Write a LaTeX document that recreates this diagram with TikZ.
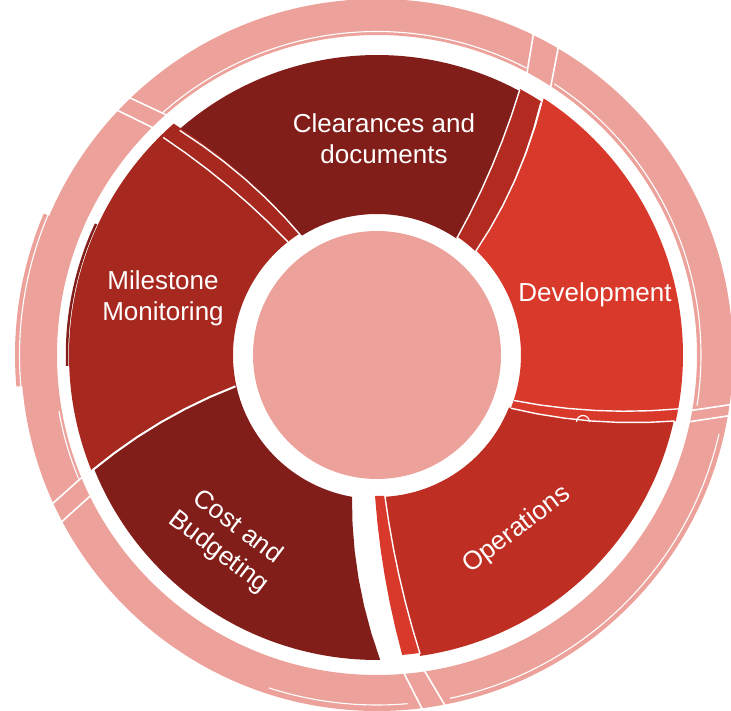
\documentclass[tikz,border=0pt]{standalone}
\usepackage{fontspec}
\setmainfont{Liberation Sans}
\definecolor{cdark}{RGB}{130,30,26}
\definecolor{cmile}{RGB}{166,40,31}
\definecolor{cdev}{RGB}{217,57,43}
\definecolor{cops}{RGB}{190,46,34}
\definecolor{cstrip}{RGB}{178,42,32}
\definecolor{cpink}{RGB}{236,162,155}
% segment: #1 start inner angle, #2 start outer angle, #3 end inner angle, #4 end outer angle, #5 inner r, #6 outer r
\newcommand\segp[6]{(#1:#5) -- plot[domain=0:1,samples=7] ({(#1)+((#2)-(#1))*\x}:{(#5)+((#6)-(#5))*\x}) arc[start angle=#2,end angle=#4,radius=#6] -- plot[domain=1:0,samples=7] ({(#3)+((#4)-(#3))*\x}:{(#5)+((#6)-(#5))*\x}) arc[start angle=#3,end angle=#1,radius=#5] -- cycle}
\newcommand\edgep[4]{plot[domain=0:1,samples=7] ({(#1)+((#2)-(#1))*\x}:{(#3)+((#4)-(#3))*\x})}
\begin{document}
\begin{tikzpicture}[x=1pt,y=1pt,
  wl/.style={draw=white,line width=1.4pt},
  gapline/.style={draw=white,line width=1.6pt},
  lbl/.style={text=white,font=\fontsize{26}{31}\selectfont,align=center,inner sep=0pt}]
\useasboundingbox (-377,-356) rectangle (354,355);
% outer pink ring
\fill[cpink, even odd rule] (0,0) circle[radius=356] (0,0) circle[radius=320];
\fill[cpink] (157:354) arc[start angle=157,end angle=185,radius=354] -- (185:362) arc[start angle=185,end angle=157,radius=362] -- cycle;
\draw[white,line width=1.1pt] (157:357.5) arc[start angle=157,end angle=185,radius=357.5];
% thin lines inside ring
\draw[white,line width=1.1pt] (62.5:323.5) arc[start angle=62.5,end angle=131.5,radius=323.5];
\draw[white,line width=1.1pt] (-9:324) arc[start angle=-9,end angle=56.8,radius=324];
\draw[white,line width=1.1pt] (190:323) arc[start angle=190,end angle=202.5,radius=323];
\draw[white,line width=1.1pt] (252:350) arc[start angle=252,end angle=275,radius=350];
\draw[white,line width=1.1pt] (-78:351) arc[start angle=-78,end angle=-13,radius=351];
% gaps in ring
\draw[gapline] (131:316) -- (134:359);
\draw[gapline] (134.4:316) -- (136.8:359);
\draw[gapline] (61.8:316) -- (64.1:359);
\draw[gapline] (56.8:316) -- (59.6:359);
\draw[gapline] (-10.2:316) -- (-7.9:359);
\draw[gapline] (-12.3:316) -- (-9.7:359);
\draw[gapline] (-85.4:316) -- (-82.6:359);
\draw[gapline] (-81.7:316) -- (-78.9:359);
\draw[gapline] (202.3:316) -- (205:365);
\draw[gapline] (206:316) -- (208.2:365);
% sliver outside Milestone
\draw[cdark,line width=2.5pt] (155:310) arc[start angle=155,end angle=182,radius=310];
\draw[white,line width=1pt] (155:307.5) arc[start angle=155,end angle=182,radius=307.5];
% segments
\fill[cdev] \segp{-21.7}{-12.5}{46.4}{57}{144}{306};
\fill[cstrip] \segp{46.4}{57}{55.6}{61.7}{143}{302};
\fill[cdark] \segp{55.6}{61.7}{122.4}{131.3}{141}{300};
\fill[cmile] \segp{122.4}{131.3}{192.5}{202.1}{144}{308};
\fill[cdark] \segp{192.5}{202.1}{260}{270.6}{144}{305};
\fill[cdev] \segp{269.2}{274.8}{273.2}{278.2}{141}{301};
\fill[cops] \segp{273.2}{278.2}{338.3}{347.5}{142}{304};
% white edge lines
\draw[wl] \edgep{46.4}{57}{143}{301};
\draw[wl] \edgep{55.6}{61.7}{141}{301};
\draw[wl] \edgep{122.4}{131.3}{140}{299};
\draw[wl] \edgep{128.2}{134.5}{144}{305};
\draw[wl,line width=2pt] \edgep{192.5}{202.1}{145}{308};
\draw[wl] \edgep{273.2}{278.2}{141}{302};
\draw[wl] \edgep{-18.4}{-10.1}{144}{307};
\draw[wl] \edgep{-21.7}{-12.5}{144}{305};
\draw[white,line width=1.2pt] (199.5,-67) arc[start angle=180,end angle=0,radius=6.5];
% hub
\node[circle,fill=cpink,minimum size=248pt,inner sep=0pt] (hub) at (0,0) {};
% labels
\node[lbl] (clr) at (7,216) {Clearances and\\documents};
\node[lbl] (dev) at (218,60) {Development};
\node[lbl] (mil) at (-214,57) {Milestone\\Monitoring};
\node[lbl,rotate=-37] (cost) at (-149,-185) {Cost and\\Budgeting};
\node[lbl,rotate=37] (ops) at (140,-175) {Operations};
\end{tikzpicture}
\end{document}
